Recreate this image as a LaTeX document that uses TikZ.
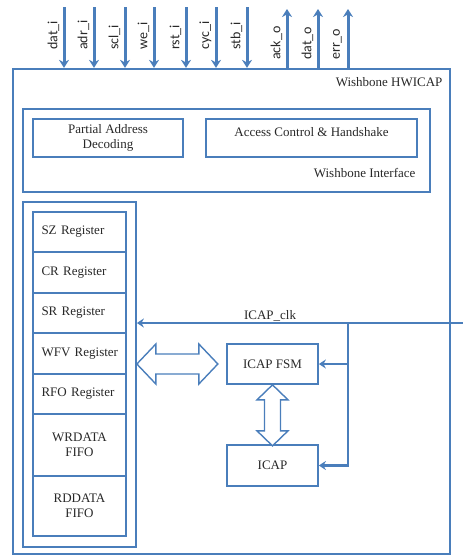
\documentclass[tikz,border=0pt]{standalone}
\usepackage{fontspec}
\setmainfont{Liberation Serif}
\newfontfamily\sigfont{Carlito}
\usetikzlibrary{arrows.meta,calc}
\definecolor{wbblue}{RGB}{74,126,187}
\definecolor{ink}{RGB}{40,40,40}
\begin{document}
\begin{tikzpicture}[x=1pt,y=-1pt,
  every node/.style={font=\fontsize{13}{15.5}\selectfont, text=ink},
  frame/.style={draw=wbblue, line width=2.3pt, inner sep=0pt},
  blk/.style={draw=wbblue, line width=1.7pt, inner sep=0pt, align=center},
  regbox/.style={blk, minimum width=93pt, text width=80pt, inner xsep=6.5pt},
  sig/.style={draw=wbblue, line width=3pt, -{Stealth[length=8pt,width=10pt]}},
  clk/.style={draw=wbblue, line width=2.5pt, -{Stealth[length=7pt,width=9pt]}},
  siglbl/.style={font=\sigfont\fontsize{14}{16}\selectfont, rotate=90, anchor=west, inner sep=0pt},
  hollow/.style={draw=wbblue, line width=1.4pt, fill=white, line join=miter},
]
\useasboundingbox (0,0) rectangle (463,557);

% top level core
\node[frame, minimum width=437pt, minimum height=485pt] (hw) at (231.5,311.5) {};
\node[anchor=east] (hwlbl) at (446,82) {Wishbone HWICAP};

% bus interface
\node[blk, minimum width=407pt, minimum height=83pt] (wbif) at (226.5,150.5) {};
\node[anchor=east] (wbiflbl) at (419,173) {Wishbone Interface};
\node[blk, minimum width=150pt, minimum height=38pt] (pad) at (108,138) {Partial Address\\Decoding};
\node[blk, minimum width=211pt, minimum height=38pt, text height=9pt, text depth=13pt] (acc) at (311.5,138) {Access Control \& Handshake};

% register file
\node[blk, minimum width=113pt, minimum height=345pt] (regs) at (79.5,374.5) {};
\node[regbox, align=left, minimum height=40pt] (sz)  at (79.5,232)   {\hspace*{2pt}SZ Register};
\node[regbox, align=left, minimum height=41pt] (cr)  at (79.5,272.5) {\hspace*{2pt}CR Register};
\node[regbox, align=left, minimum height=40pt] (sr)  at (79.5,313)   {\hspace*{2pt}SR Register};
\node[regbox, align=left, minimum height=41pt] (wfv) at (79.5,353.5) {\hspace*{2pt}WFV Register};
\node[regbox, align=left, minimum height=40pt] (rfo) at (79.5,394)   {\hspace*{2pt}RFO Register};
\node[regbox, align=center, minimum height=62pt] (wr) at (79.5,445)  {WRDATA\\FIFO};
\node[regbox, align=center, minimum height=60pt] (rd) at (79.5,506)  {RDDATA\\FIFO};

% configuration port
\node[blk, minimum width=91pt, minimum height=40pt] (fsm)  at (272.5,364)   {ICAP FSM};
\node[blk, minimum width=91pt, minimum height=41pt] (icap) at (272.5,465.5) {ICAP};

% wishbone inputs
\foreach \x/\n/\t in {64/a/dat\_i, 94/b/adr\_i, 125/c/scl\_i, 154/d/we\_i,
                      186/e/rst\_i, 216/f/cyc\_i, 247/g/stb\_i}{
  \coordinate (in\n) at (\x,7);
  \draw[sig] (in\n) -- (in\n |- hw.north);
  \node[siglbl] (lin\n) at (\x-10.5,50) {\t};
}
% wishbone outputs
\foreach \x/\n/\t in {287/a/ack\_o, 318/b/dat\_o, 348/c/err\_o}{
  \coordinate (out\n) at (\x,9);
  \draw[sig] (out\n |- hw.north) -- (out\n);
  \node[siglbl] (lout\n) at (\x-10.5,60) {\t};
}

% clock distribution
\coordinate (clkin) at (463,323);
\coordinate (clkbr) at (348,323);
\draw[clk] (clkin) -- (clkin -| regs.east);
\node[anchor=base] (clklbl) at (270,319) {ICAP\_clk};
\draw[clk] (clkbr) |- (icap.east);
\draw[clk] (clkbr |- fsm.east) -- (fsm.east);

% data paths
\draw[hollow, shift={(regs.east |- fsm.west)}]
  (0,0) -- (19,-20) -- (19,-10) -- (62,-10) -- (62,-20) -- (81,0)
  -- (62,20) -- (62,10) -- (19,10) -- (19,20) -- cycle;
\draw[hollow, shift={(fsm.south)}]
  (0,0) -- (15.5,15) -- (8,15) -- (8,46) -- (15.5,46) -- (0,61)
  -- (-15.5,46) -- (-8,46) -- (-8,15) -- (-15.5,15) -- cycle;
\end{tikzpicture}
\end{document}
